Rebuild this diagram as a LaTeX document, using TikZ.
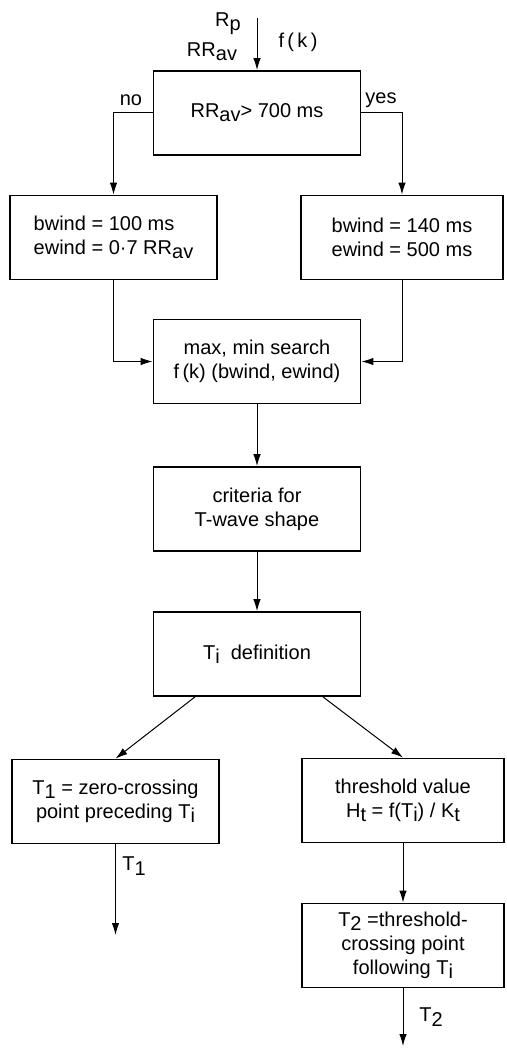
\documentclass[tikz,border=0pt]{standalone}
\usepackage{fontspec}
\setmainfont{Liberation Sans}
\usetikzlibrary{arrows.meta}
\newcommand{\lo}[1]{\raisebox{-0.4ex}{#1}}

\begin{document}
\begin{tikzpicture}[x=1pt,y=-1pt,font=\fontsize{20}{24}\selectfont,blk/.style={draw,line width=1.8pt,minimum width=#1,minimum height=84pt,inner sep=0pt,align=center},blk/.default=207pt,flow/.style={line width=1pt,-{Latex[length=12pt,width=7.5pt]}}]
\useasboundingbox (0,0) rectangle (506,1048);
\node[blk] (test) at (257,113) {RR\lo{av}> 700 ms};
\node[blk,align=left] (short) at (113.5,237.5) {bwind = 100 ms\\ewind = 0·7 RR\lo{av}};
\node[blk=202pt,align=left] (long) at (402,237.5) {bwind = 140 ms\\ewind = 500 ms};
\node[blk] (search) at (257,361.5) {max, min search\\f\,(k) (bwind, ewind)};
\node[blk] (crit) at (257,509) {criteria for\\T-wave shape};
\node[blk] (tdef) at (257,654) {T\lo{i} \ definition};
\node[blk] (zero) at (115.5,801.5) {T\lo{1} = zero-crossing\\point preceding T\lo{i}};
\node[blk=202pt] (thr) at (403,800.5) {threshold value\\H\lo{t} = f(T\lo{i}) / K\lo{t}};
\node[blk=202pt] (cross) at (403,945.5) {T\lo{2} =threshold-\\crossing point\\following T\lo{i}};
% inputs and outputs
\coordinate (in) at (257,18);
\coordinate (out1) at (115.5,935);
\coordinate (out2) at (403,1046);
\node (rp) at (228,24) {R\lo{p}};
\node (rrav) at (212,52) {RR\lo{av}};
\node (fk) at (298,42) {f\,(\,k\,)};
\node (no) at (131,100) {no};
\node (yes) at (381,100) {yes};
\node (tone) at (134,866) {T\lo{1}};
\node (ttwo) at (431,1017) {T\lo{2}};
\draw[flow] (in) -- (test);
\draw[flow] (test.west) -| (short.north);
\draw[flow] (test.east) -| (long.north);
\draw[flow] (short.south) |- (search.west);
\draw[flow] (long.south) |- (search.east);
\foreach \a/\b in %
{search/crit,crit/tdef,thr/cross,zero/out1,cross/out2} {
   \draw[flow] (\a) -- (\b);
}
\draw[flow] ([xshift=-62pt]tdef.south) -- (zero.north);
\draw[flow] ([xshift=66pt]tdef.south) -- (thr.north);
\end{tikzpicture}
\end{document}
